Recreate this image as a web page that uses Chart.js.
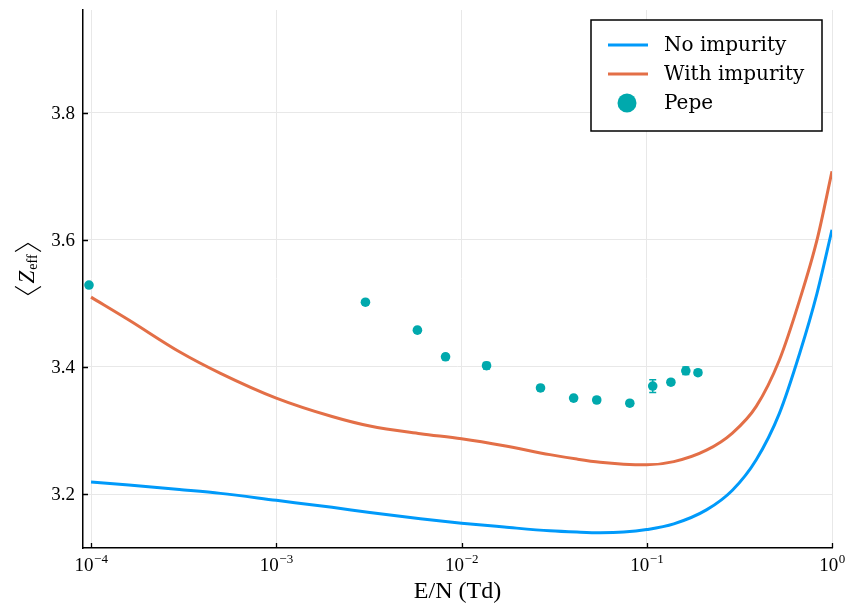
<!DOCTYPE html>
<html>
<head>
<meta charset="utf-8">
<script src="https://cdn.jsdelivr.net/npm/chart.js@4/dist/chart.umd.min.js"></script>
<style>
html,body{margin:0;padding:0;background:#fff;}
#wrap{width:847px;height:607px;position:relative;}
</style>
</head>
<body>
<div id="wrap"><canvas id="c" width="847" height="607"></canvas></div>
<script>
// ---- data ----
const curveX = [1e-4, 1.6e-4, 3e-4, 5e-4, 1e-3, 2e-3, 3.2e-3, 6e-3, 1e-2, 1.7e-2, 3e-2, 4.2e-2, 5.6e-2, 7.5e-2, 0.1, 0.14, 0.21, 0.29, 0.39, 0.52, 0.67, 0.83, 1.0];
const noImpurity = [3.219, 3.214, 3.207, 3.201, 3.190, 3.179, 3.171, 3.161, 3.154, 3.148, 3.142, 3.140, 3.139, 3.140, 3.144, 3.153, 3.175, 3.206, 3.254, 3.327, 3.422, 3.516, 3.616];
const withImpurity = [3.510, 3.474, 3.424, 3.390, 3.351, 3.322, 3.307, 3.295, 3.287, 3.276, 3.262, 3.255, 3.250, 3.247, 3.246, 3.251, 3.269, 3.296, 3.338, 3.411, 3.506, 3.600, 3.708];
const pepeX = [9.75e-5, 3.03e-3, 5.78e-3, 8.2e-3, 1.365e-2, 2.67e-2, 4.03e-2, 5.37e-2, 8.1e-2, 0.1077, 0.135, 0.1625, 0.189];
const pepeY = [3.529, 3.502, 3.458, 3.416, 3.402, 3.367, 3.351, 3.348, 3.343, 3.370, 3.376, 3.394, 3.391];
const pepeErr = [0.003, 0.004, 0.004, 0.004, 0.005, 0.004, 0.004, 0.004, 0.004, 0.010, 0.004, 0.006, 0.004];
const seriesNames = ['No impurity', 'With impurity', 'Pepe'];
const xTickValues = [1e-4, 1e-3, 1e-2, 1e-1, 1];
const xTickExps = ['\u22124', '\u22123', '\u22122', '\u22121', '0'];
const yTickValues = [3.2, 3.4, 3.6, 3.8];
const yTickLabels = ['3.2', '3.4', '3.6', '3.8'];
const xTitle = 'E/N (Td)';

// ---- style ----
const C_BLUE = '#009AFA', C_ORANGE = '#E36F47', C_TEAL = '#00A9AD';
const TICK_FONT = '19px "Liberation Serif", serif';
const EXP_FONT = '13px "Liberation Serif", serif';
const LEG_FONT = '20px "DejaVu Serif", serif';

const pts = (xs, ys) => xs.map((x, i) => ({x: x, y: ys[i]}));

const decor = {
  id: 'decor',
  afterDatasetsDraw(chart) {
    const ctx = chart.ctx, xs = chart.scales.x, ys = chart.scales.y;
    ctx.save();
    ctx.strokeStyle = C_TEAL; ctx.lineWidth = 1.5;
    pepeX.forEach((x, i) => {
      const px = xs.getPixelForValue(x);
      const p1 = ys.getPixelForValue(pepeY[i] - pepeErr[i]);
      const p2 = ys.getPixelForValue(pepeY[i] + pepeErr[i]);
      ctx.beginPath();
      ctx.moveTo(px, p1); ctx.lineTo(px, p2);
      ctx.moveTo(px - 3.5, p1); ctx.lineTo(px + 3.5, p1);
      ctx.moveTo(px - 3.5, p2); ctx.lineTo(px + 3.5, p2);
      ctx.stroke();
    });
    ctx.restore();
  },
  afterDraw(chart) {
    const ctx = chart.ctx, xs = chart.scales.x, ys = chart.scales.y, ca = chart.chartArea;
    ctx.save();
    // inward ticks
    ctx.strokeStyle = '#000'; ctx.lineWidth = 1.3;
    ctx.beginPath();
    xTickValues.forEach(v => { const px = Math.round(xs.getPixelForValue(v)) + 0.5; ctx.moveTo(px, ca.bottom); ctx.lineTo(px, ca.bottom - 5); });
    yTickValues.forEach(v => { const py = Math.round(ys.getPixelForValue(v)) + 0.5; ctx.moveTo(ca.left, py); ctx.lineTo(ca.left + 5, py); });
    ctx.stroke();
    // x tick labels
    ctx.fillStyle = '#000';
    ctx.textBaseline = 'alphabetic'; ctx.textAlign = 'left';
    xTickValues.forEach((v, i) => {
      const px = xs.getPixelForValue(v);
      ctx.font = TICK_FONT; const w1 = ctx.measureText('10').width;
      ctx.font = EXP_FONT; const w2 = ctx.measureText(xTickExps[i]).width;
      const x0 = px - (w1 + w2) / 2;
      const base = ca.bottom + 23;
      ctx.font = TICK_FONT; ctx.fillText('10', x0, base);
      ctx.font = EXP_FONT; ctx.fillText(xTickExps[i], x0 + w1 + 0.5, base - 8);
    });
    // y tick labels
    ctx.font = TICK_FONT; ctx.textAlign = 'right'; ctx.textBaseline = 'middle';
    yTickValues.forEach((v, i) => { ctx.fillText(yTickLabels[i], ca.left - 8, ys.getPixelForValue(v) + 1); });
    // x title
    ctx.font = '24px "Liberation Serif", serif'; ctx.textAlign = 'center'; ctx.textBaseline = 'alphabetic';
    ctx.fillText(xTitle, (ca.left + ca.right) / 2, 598);
    // y title  <Z_eff> with thin angle brackets
    ctx.translate(28, (ca.top + ca.bottom) / 2 - 10);
    ctx.rotate(-Math.PI / 2);
    ctx.font = 'italic 23px "Liberation Serif", serif';
    const wZ = ctx.measureText('Z').width;
    ctx.font = '14px "Liberation Serif", serif';
    const wE = ctx.measureText('eff').width;
    const bw = 8, gap = 3;
    const tw = bw + gap + wZ + 1 + wE + gap + bw;
    let cx = -tw / 2;
    ctx.strokeStyle = '#000'; ctx.lineWidth = 1.1;
    ctx.beginPath(); ctx.moveTo(cx + bw, -13); ctx.lineTo(cx, 0); ctx.lineTo(cx + bw, 13); ctx.stroke();
    cx += bw + gap;
    ctx.textAlign = 'left'; ctx.textBaseline = 'middle';
    ctx.font = 'italic 23px "Liberation Serif", serif'; ctx.fillText('Z', cx, 0); cx += wZ + 1;
    ctx.font = '14px "Liberation Serif", serif'; ctx.fillText('eff', cx, 5); cx += wE + gap;
    ctx.beginPath(); ctx.moveTo(cx, -13); ctx.lineTo(cx + bw, 0); ctx.lineTo(cx, 13); ctx.stroke();
    ctx.restore();

    // legend
    ctx.save();
    const bx = ca.right - 241, by = ca.top + 10, bW = 231, bH = 111;
    ctx.fillStyle = '#fff'; ctx.fillRect(bx, by, bW, bH);
    ctx.strokeStyle = '#000'; ctx.lineWidth = 1.5; ctx.strokeRect(bx, by, bW, bH);
    const colors = [C_BLUE, C_ORANGE, C_TEAL];
    ctx.font = LEG_FONT; ctx.textBaseline = 'middle'; ctx.textAlign = 'left';
    seriesNames.forEach((name, i) => {
      const ry = by + 25 + i * 29;
      if (i < 2) {
        ctx.strokeStyle = colors[i]; ctx.lineWidth = 3;
        ctx.beginPath(); ctx.moveTo(bx + 17, ry); ctx.lineTo(bx + 57, ry); ctx.stroke();
      } else {
        ctx.fillStyle = colors[i];
        ctx.beginPath(); ctx.arc(bx + 36, ry, 9.5, 0, Math.PI * 2); ctx.fill();
      }
      ctx.fillStyle = '#000';
      ctx.fillText(name, bx + 73, ry + 1);
    });
    ctx.restore();
  }
};

new Chart(document.getElementById('c'), {
  type: 'line',
  data: {
    datasets: [
      {label: seriesNames[0], data: pts(curveX, noImpurity), borderColor: C_BLUE, borderWidth: 3, pointRadius: 0, cubicInterpolationMode: 'monotone', fill: false},
      {label: seriesNames[1], data: pts(curveX, withImpurity), borderColor: C_ORANGE, borderWidth: 3, pointRadius: 0, cubicInterpolationMode: 'monotone', fill: false},
      {label: seriesNames[2], data: pts(pepeX, pepeY), showLine: false, pointRadius: 4.8, pointBackgroundColor: C_TEAL, pointBorderColor: C_TEAL, pointBorderWidth: 0, borderColor: C_TEAL}
    ]
  },
  options: {
    responsive: false,
    animation: false,
    events: [],
    layout: {padding: {left: 83, top: 10, right: 15, bottom: 59}},
    plugins: {legend: {display: false}, tooltip: {enabled: false}},
    scales: {
      x: {
        type: 'logarithmic', min: 9.05e-5, max: 1,
        afterBuildTicks: s => { s.ticks = xTickValues.map(v => ({value: v})); },
        ticks: {display: false},
        grid: {color: '#e8e8e8', lineWidth: 1, drawTicks: false},
        border: {color: '#000', width: 1.5}
      },
      y: {
        type: 'linear', min: 3.115, max: 3.962,
        afterBuildTicks: s => { s.ticks = yTickValues.map(v => ({value: v})); },
        ticks: {display: false},
        grid: {color: '#e8e8e8', lineWidth: 1, drawTicks: false},
        border: {color: '#000', width: 1.5}
      }
    }
  },
  plugins: [decor]
});
</script>
</body>
</html>
